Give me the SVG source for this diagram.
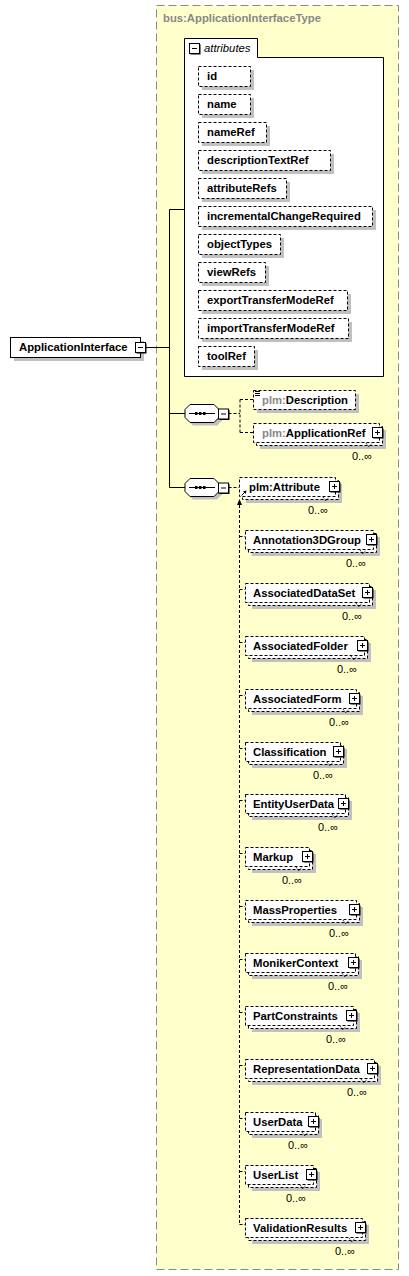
<svg xmlns="http://www.w3.org/2000/svg" xmlns:xlink="http://www.w3.org/1999/xlink" width="409" height="1276" viewBox="0 0 409 1276">
<style>
.t{font-family:"Liberation Sans",Arial,sans-serif;font-size:11.3px;font-weight:bold;fill:#000}
.g{fill:#888}
.it{font-family:"Liberation Sans",Arial,sans-serif;font-size:11.3px;font-style:italic;fill:#000}
.occ{font-family:"Liberation Sans",Arial,sans-serif;font-size:11px;fill:#000;text-anchor:end}
.box{fill:#fff;stroke:#000;stroke-width:1;stroke-dasharray:3,2}
.sh{fill:#c0c0c0}
.sol{fill:#fff;stroke:#000;stroke-width:1}
.ln{stroke:#000;stroke-width:1;fill:none}
.dl{stroke:#000;stroke-width:1;fill:none;stroke-dasharray:3,2}
.tick{stroke:#000;stroke-width:1;fill:none;stroke-dasharray:1,1}
</style>
<defs>
<g id="plus"><rect x="1.5" y="1.5" width="10" height="10" fill="#000"/><rect x="0.5" y="0.5" width="10" height="10" fill="#fff" stroke="#000"/><path d="M3,5.5H8M5.5,3V8" stroke="#000" fill="none"/></g>
<g id="minus"><rect x="1.5" y="1.5" width="10" height="10" fill="#000"/><rect x="0.5" y="0.5" width="10" height="10" fill="#fff" stroke="#000"/><path d="M3,5.5H8" stroke="#000" fill="none"/></g>
<g id="seq">
<polygon class="sh" points="193,-6 217,-6 222,-1 222,7 217,12 193,12 188,7 188,-1"/>
<polygon class="sol" points="190,-9 214,-9 219,-4 219,4 214,9 190,9 185,4 185,-4"/>
<path d="M189,0H215" stroke="#000" fill="none"/>
<rect x="195" y="-1.5" width="2.5" height="3" fill="#000"/>
<rect x="199" y="-1.5" width="2.5" height="3" fill="#000"/>
<rect x="203" y="-1.5" width="2.5" height="3" fill="#000"/>
<use xlink:href="#minus" href="#minus" x="218" y="-5"/>
</g>
</defs>

<g id="type-box">
<rect x="156.5" y="5.5" width="242" height="1264" fill="#ffffcc" stroke="#888" stroke-dasharray="8,4"/>
<text class="t g" x="163" y="22">bus:ApplicationInterfaceType</text>
</g>

<g id="connectors">
<path class="ln" d="M145.5,347.5H169.5M169.5,209.5V487.5M169.5,209.5H184.5M169.5,413.5H185M169.5,487.5H185"/>
<path class="dl" d="M228.5,413.5H240M240,399.5V432.5M240,399.5H253M240,432.5H253M228.5,487.5H239"/>
<path class="dl" d="M239.5,505V1224.5M239.5,536.5H245M239.5,589.5H245M239.5,642.5H245M239.5,695.5H245M239.5,748.5H245M239.5,800.5H245M239.5,853.5H245M239.5,906.5H245M239.5,959.5H245M239.5,1012.5H245M239.5,1065.5H245M239.5,1118.5H245M239.5,1171.5H245M239.5,1224.5H245"/>
<polygon points="239.5,499 237,505 242,505" fill="#000"/>
</g>

<g id="ApplicationInterface">
<rect class="sh" x="14" y="341" width="130" height="20"/>
<rect class="sol" x="10.5" y="337.5" width="130" height="20"/>
<text class="t" x="19" y="351">ApplicationInterface</text>
<use xlink:href="#minus" href="#minus" x="135" y="342"/>
</g>

<g id="attributes">
<path class="sol" d="M184.5,376.5V38.5H257.5V57.5H383.5V376.5Z"/>
<use xlink:href="#minus" href="#minus" x="189" y="43"/>
<text class="it" x="204" y="52">attributes</text>
</g>

<g id="attr-id"><rect class="sh" x="202" y="70" width="52" height="20"/><rect class="box" x="198.5" y="66.5" width="52" height="20"/><text class="t" x="207" y="80">id</text></g>
<g id="attr-name"><rect class="sh" x="202" y="98" width="52" height="20"/><rect class="box" x="198.5" y="94.5" width="52" height="20"/><text class="t" x="207" y="108">name</text></g>
<g id="attr-nameRef"><rect class="sh" x="202" y="126" width="68" height="20"/><rect class="box" x="198.5" y="122.5" width="68" height="20"/><text class="t" x="207" y="136">nameRef</text></g>
<g id="attr-descriptionTextRef"><rect class="sh" x="202" y="154" width="132" height="20"/><rect class="box" x="198.5" y="150.5" width="132" height="20"/><text class="t" x="207" y="164">descriptionTextRef</text></g>
<g id="attr-attributeRefs"><rect class="sh" x="202" y="182" width="88" height="20"/><rect class="box" x="198.5" y="178.5" width="88" height="20"/><text class="t" x="207" y="192">attributeRefs</text></g>
<g id="attr-incrementalChangeRequired"><rect class="sh" x="202" y="210" width="174" height="20"/><rect class="box" x="198.5" y="206.5" width="174" height="20"/><text class="t" x="207" y="220">incrementalChangeRequired</text></g>
<g id="attr-objectTypes"><rect class="sh" x="202" y="238" width="82" height="20"/><rect class="box" x="198.5" y="234.5" width="82" height="20"/><text class="t" x="207" y="248">objectTypes</text></g>
<g id="attr-viewRefs"><rect class="sh" x="202" y="266" width="67" height="20"/><rect class="box" x="198.5" y="262.5" width="67" height="20"/><text class="t" x="207" y="276">viewRefs</text></g>
<g id="attr-exportTransferModeRef"><rect class="sh" x="202" y="294" width="149" height="20"/><rect class="box" x="198.5" y="290.5" width="149" height="20"/><text class="t" x="207" y="304">exportTransferModeRef</text></g>
<g id="attr-importTransferModeRef"><rect class="sh" x="202" y="322" width="150" height="20"/><rect class="box" x="198.5" y="318.5" width="150" height="20"/><text class="t" x="207" y="332">importTransferModeRef</text></g>
<g id="attr-toolRef"><rect class="sh" x="202" y="350" width="56" height="20"/><rect class="box" x="198.5" y="346.5" width="56" height="20"/><text class="t" x="207" y="360">toolRef</text></g>

<g id="sequence-1"><use xlink:href="#seq" href="#seq" x="0" y="413.5"/></g>
<g id="sequence-2"><use xlink:href="#seq" href="#seq" x="0" y="487.5"/></g>

<g id="plm-Description">
<rect class="sh" x="257" y="394" width="102" height="19"/>
<rect class="box" x="253.5" y="390.5" width="102" height="19"/>
<path d="M255,391.5h5M255,393.5h5M255,395.5h5" stroke="#000" fill="none"/>
<text class="t" x="262" y="404"><tspan class="g">plm:</tspan>Description</text>
</g>

<g id="plm-ApplicationRef">
<rect class="sh" x="260" y="430" width="126" height="19"/>
<rect class="box" x="256.5" y="426.5" width="126" height="19"/>
<rect class="box" x="253.5" y="423.5" width="126" height="19"/>
<text class="t" x="262" y="437"><tspan class="g">plm:</tspan>ApplicationRef</text>
<use xlink:href="#plus" href="#plus" x="372" y="427"/>
<polyline class="tick" points="366,443 369,447 372,443"/>
<text class="occ" x="372" y="460">0..∞</text>
</g>

<g id="plm-Attribute">
<rect class="sh" x="246" y="484" width="96" height="19"/>
<rect class="box" x="242.5" y="480.5" width="96" height="19"/>
<rect class="box" x="239.5" y="477.5" width="96" height="19"/>
<text class="t" x="249" y="491">plm:Attribute</text>
<path d="M241.5,495.5L245.5,491.5" stroke="#000" fill="none"/>
<polygon points="246.5,490.5 243,491.2 245.8,494" fill="#000"/>
<use xlink:href="#plus" href="#plus" x="329" y="481"/>
<polyline class="tick" points="323,497 326,501 329,497"/>
<text class="occ" x="328" y="514">0..∞</text>
</g>

<g id="Annotation3DGroup"><rect class="sh" x="252" y="537" width="128" height="19"/><rect class="box" x="248.5" y="533.5" width="128" height="19"/><rect class="box" x="245.5" y="530.5" width="128" height="19"/><text class="t" x="253" y="544">Annotation3DGroup</text><use xlink:href="#plus" href="#plus" x="366" y="534"/><polyline class="tick" points="360,550 363,554 366,550"/><text class="occ" x="366" y="567">0..∞</text></g>
<g id="AssociatedDataSet"><rect class="sh" x="252" y="590" width="124" height="19"/><rect class="box" x="248.5" y="586.5" width="124" height="19"/><rect class="box" x="245.5" y="583.5" width="124" height="19"/><text class="t" x="253" y="597">AssociatedDataSet</text><use xlink:href="#plus" href="#plus" x="362" y="587"/><polyline class="tick" points="356,603 359,607 362,603"/><text class="occ" x="362" y="620">0..∞</text></g>
<g id="AssociatedFolder"><rect class="sh" x="252" y="643" width="119" height="19"/><rect class="box" x="248.5" y="639.5" width="119" height="19"/><rect class="box" x="245.5" y="636.5" width="119" height="19"/><text class="t" x="253" y="650">AssociatedFolder</text><use xlink:href="#plus" href="#plus" x="357" y="640"/><polyline class="tick" points="351,656 354,660 357,656"/><text class="occ" x="357" y="673">0..∞</text></g>
<g id="AssociatedForm"><rect class="sh" x="252" y="696" width="111" height="19"/><rect class="box" x="248.5" y="692.5" width="111" height="19"/><rect class="box" x="245.5" y="689.5" width="111" height="19"/><text class="t" x="253" y="703">AssociatedForm</text><use xlink:href="#plus" href="#plus" x="349" y="693"/><polyline class="tick" points="343,709 346,713 349,709"/><text class="occ" x="349" y="726">0..∞</text></g>
<g id="Classification"><rect class="sh" x="252" y="749" width="95" height="19"/><rect class="box" x="248.5" y="745.5" width="95" height="19"/><rect class="box" x="245.5" y="742.5" width="95" height="19"/><text class="t" x="253" y="756">Classification</text><use xlink:href="#plus" href="#plus" x="333" y="746"/><polyline class="tick" points="327,762 330,766 333,762"/><text class="occ" x="333" y="779">0..∞</text></g>
<g id="EntityUserData"><rect class="sh" x="252" y="801" width="100" height="19"/><rect class="box" x="248.5" y="797.5" width="100" height="19"/><rect class="box" x="245.5" y="794.5" width="100" height="19"/><text class="t" x="253" y="808">EntityUserData</text><use xlink:href="#plus" href="#plus" x="338" y="798"/><polyline class="tick" points="332,814 335,818 338,814"/><text class="occ" x="338" y="831">0..∞</text></g>
<g id="Markup"><rect class="sh" x="252" y="854" width="64" height="19"/><rect class="box" x="248.5" y="850.5" width="64" height="19"/><rect class="box" x="245.5" y="847.5" width="64" height="19"/><text class="t" x="253" y="861">Markup</text><use xlink:href="#plus" href="#plus" x="302" y="851"/><polyline class="tick" points="296,867 299,871 302,867"/><text class="occ" x="302" y="884">0..∞</text></g>
<g id="MassProperties"><rect class="sh" x="252" y="907" width="111" height="19"/><rect class="box" x="248.5" y="903.5" width="111" height="19"/><rect class="box" x="245.5" y="900.5" width="111" height="19"/><text class="t" x="253" y="914">MassProperties</text><use xlink:href="#plus" href="#plus" x="349" y="904"/><polyline class="tick" points="343,920 346,924 349,920"/><text class="occ" x="349" y="937">0..∞</text></g>
<g id="MonikerContext"><rect class="sh" x="252" y="960" width="110" height="19"/><rect class="box" x="248.5" y="956.5" width="110" height="19"/><rect class="box" x="245.5" y="953.5" width="110" height="19"/><text class="t" x="253" y="967">MonikerContext</text><use xlink:href="#plus" href="#plus" x="348" y="957"/><polyline class="tick" points="342,973 345,977 348,973"/><text class="occ" x="348" y="990">0..∞</text></g>
<g id="PartConstraints"><rect class="sh" x="252" y="1013" width="108" height="19"/><rect class="box" x="248.5" y="1009.5" width="108" height="19"/><rect class="box" x="245.5" y="1006.5" width="108" height="19"/><text class="t" x="253" y="1020">PartConstraints</text><use xlink:href="#plus" href="#plus" x="346" y="1010"/><polyline class="tick" points="340,1026 343,1030 346,1026"/><text class="occ" x="346" y="1043">0..∞</text></g>
<g id="RepresentationData"><rect class="sh" x="252" y="1066" width="129" height="19"/><rect class="box" x="248.5" y="1062.5" width="129" height="19"/><rect class="box" x="245.5" y="1059.5" width="129" height="19"/><text class="t" x="253" y="1073">RepresentationData</text><use xlink:href="#plus" href="#plus" x="367" y="1063"/><polyline class="tick" points="361,1079 364,1083 367,1079"/><text class="occ" x="367" y="1096">0..∞</text></g>
<g id="UserData"><rect class="sh" x="252" y="1119" width="70" height="19"/><rect class="box" x="248.5" y="1115.5" width="70" height="19"/><rect class="box" x="245.5" y="1112.5" width="70" height="19"/><text class="t" x="253" y="1126">UserData</text><use xlink:href="#plus" href="#plus" x="308" y="1116"/><polyline class="tick" points="302,1132 305,1136 308,1132"/><text class="occ" x="308" y="1149">0..∞</text></g>
<g id="UserList"><rect class="sh" x="252" y="1172" width="68" height="19"/><rect class="box" x="248.5" y="1168.5" width="68" height="19"/><rect class="box" x="245.5" y="1165.5" width="68" height="19"/><text class="t" x="253" y="1179">UserList</text><use xlink:href="#plus" href="#plus" x="306" y="1169"/><polyline class="tick" points="300,1185 303,1189 306,1185"/><text class="occ" x="306" y="1202">0..∞</text></g>
<g id="ValidationResults"><rect class="sh" x="252" y="1225" width="117" height="19"/><rect class="box" x="248.5" y="1221.5" width="117" height="19"/><rect class="box" x="245.5" y="1218.5" width="117" height="19"/><text class="t" x="253" y="1232">ValidationResults</text><use xlink:href="#plus" href="#plus" x="355" y="1222"/><polyline class="tick" points="349,1238 352,1242 355,1238"/><text class="occ" x="355" y="1255">0..∞</text></g>
</svg>
